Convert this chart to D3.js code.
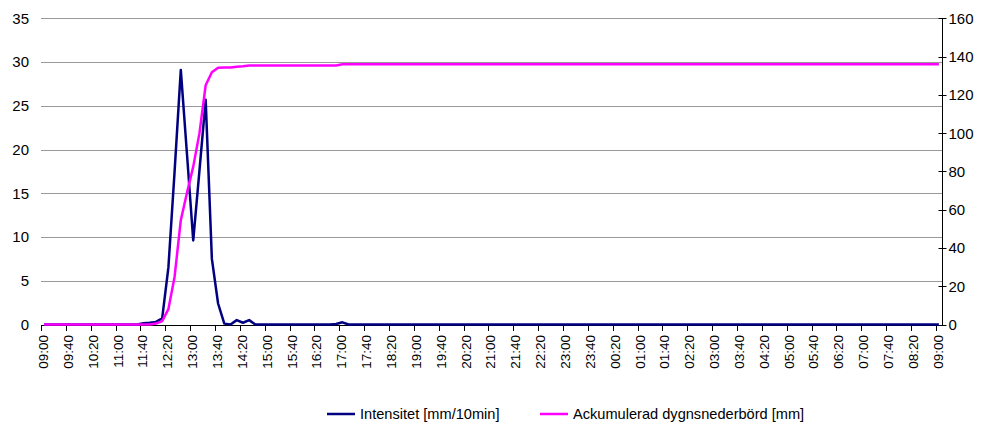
<!DOCTYPE html>
<html>
<head>
<meta charset="utf-8">
<script src="https://cdn.jsdelivr.net/npm/d3@7"></script>
<style>
  body { margin: 0; background: #fff; }
  text { font-family: "Liberation Sans", Arial, sans-serif; fill: #000; }
</style>
</head>
<body>
<div id="chart"></div>
<script>
// 10-minute steps from 09:00 to 09:00 next day (145 categories)
const startTime = new Date(2000, 0, 1, 9, 0);
const categories = d3.range(145).map(i => d3.timeFormat("%H:%M")(d3.timeMinute.offset(startTime, i * 10)));

// Intensitet [mm/10min]
const intensity = [
  0, 0, 0, 0, 0, 0, 0, 0, 0, 0, 0, 0, 0, 0, 0, 0,
  0.15, 0.2, 0.3, 0.7, 6.5, 17.5, 29.1, 19.4, 9.6, 17.6, 25.7, 7.5, 2.4, 0.1, 0, 0.5, 0.2, 0.5,
  0, 0, 0, 0, 0, 0, 0, 0, 0, 0, 0, 0, 0,
  0.05, 0.25,
  0, 0, 0, 0, 0, 0, 0, 0, 0, 0, 0, 0, 0, 0, 0, 0, 0, 0, 0, 0, 0, 0, 0, 0,
  0, 0, 0, 0, 0, 0, 0, 0, 0, 0, 0, 0, 0, 0, 0, 0, 0, 0, 0, 0, 0, 0, 0, 0,
  0, 0, 0, 0, 0, 0, 0, 0, 0, 0, 0, 0, 0, 0, 0, 0, 0, 0, 0, 0, 0, 0, 0, 0,
  0, 0, 0, 0, 0, 0, 0, 0, 0, 0, 0, 0, 0, 0, 0, 0, 0, 0, 0, 0, 0, 0, 0, 0
];

// Ackumulerad dygnsnederbörd [mm]
const accumulated = [
  0, 0, 0, 0, 0, 0, 0, 0, 0, 0, 0, 0, 0, 0, 0, 0, 0, 0,
  0.5, 1.8, 8, 25, 54.5, 69, 82.5, 100, 125, 131.8, 134.2, 134.3, 134.3, 134.7, 134.9, 135.3,
  135.3, 135.3, 135.3, 135.3, 135.3, 135.3, 135.3, 135.3, 135.3, 135.3, 135.3, 135.3, 135.3, 135.3,
  136, 136, 136, 136, 136, 136, 136, 136, 136, 136, 136, 136, 136, 136, 136, 136, 136, 136, 136, 136, 136, 136, 136, 136,
  136, 136, 136, 136, 136, 136, 136, 136, 136, 136, 136, 136, 136, 136, 136, 136, 136, 136, 136, 136, 136, 136, 136, 136,
  136, 136, 136, 136, 136, 136, 136, 136, 136, 136, 136, 136, 136, 136, 136, 136, 136, 136, 136, 136, 136, 136, 136, 136,
  136, 136, 136, 136, 136, 136, 136, 136, 136, 136, 136, 136, 136, 136, 136, 136, 136, 136, 136, 136, 136, 136, 136, 136,
  136
];

const leftTicks = [0, 5, 10, 15, 20, 25, 30, 35];
const rightTicks = [0, 20, 40, 60, 80, 100, 120, 140, 160];
const seriesNames = ["Intensitet [mm/10min]", "Ackumulerad dygnsnederbörd [mm]"];
const seriesColors = ["#000080", "#FF00FF"];

const width = 985, height = 424;
const plot = {left: 41, right: 942, top: 18.3, bottom: 324.5};

const svg = d3.select("#chart")
    .append("svg")
    .attr("width", width)
    .attr("height", height);

svg.append("rect").attr("width", width).attr("height", height).attr("fill", "#fff");

// categories by index (09:00 occurs twice); points sit mid-band, ticks between
const idx = d3.range(categories.length);
const xBand = d3.scaleBand().domain(idx).range([plot.left, plot.right]);
const x = i => xBand(i) + xBand.bandwidth() / 2;

const yLeft = d3.scaleLinear().domain([0, 35]).range([plot.bottom, plot.top]);
const yRight = d3.scaleLinear().domain([0, 160]).range([plot.bottom, plot.top]);

// gridlines
svg.append("g")
    .selectAll("line")
    .data(leftTicks.filter(d => d > 0))
    .enter()
    .append("line")
    .attr("x1", plot.left)
    .attr("x2", plot.right)
    .attr("y1", d => Math.round(yLeft(d)) + 0.5)
    .attr("y2", d => Math.round(yLeft(d)) + 0.5)
    .attr("stroke", "#999")
    .attr("stroke-width", 1);

// left axis labels (no axis line)
svg.append("g")
    .selectAll("text")
    .data(leftTicks)
    .enter()
    .append("text")
    .attr("x", 29)
    .attr("y", d => yLeft(d))
    .attr("dy", "0.36em")
    .attr("text-anchor", "end")
    .attr("font-size", "15px")
    .text(d => d);

// right axis
const rightAxis = svg.append("g")
    .attr("transform", `translate(${Math.round(plot.right) + 0.5},0)`);
rightAxis.append("line")
    .attr("y1", plot.top)
    .attr("y2", plot.bottom + 1)
    .attr("stroke", "#000");
rightAxis.selectAll("line.tick")
    .data(rightTicks)
    .enter()
    .append("line")
    .attr("class", "tick")
    .attr("x1", -4)
    .attr("x2", 4)
    .attr("y1", d => Math.round(yRight(d)) + 0.5)
    .attr("y2", d => Math.round(yRight(d)) + 0.5)
    .attr("stroke", "#000");
rightAxis.selectAll("text")
    .data(rightTicks)
    .enter()
    .append("text")
    .attr("x", 6)
    .attr("y", d => yRight(d))
    .attr("dy", "0.36em")
    .attr("font-size", "15px")
    .text(d => d);

// x axis
const labelled = idx.filter(i => i % 4 === 0);
const xAxis = svg.append("g");
xAxis.append("line")
    .attr("x1", plot.left)
    .attr("x2", plot.right)
    .attr("y1", Math.round(plot.bottom) + 0.5)
    .attr("y2", Math.round(plot.bottom) + 0.5)
    .attr("stroke", "#000");
xAxis.selectAll("line.tick")
    .data(labelled)
    .enter()
    .append("line")
    .attr("class", "tick")
    .attr("x1", i => Math.round(xBand(i)) + 0.5)
    .attr("x2", i => Math.round(xBand(i)) + 0.5)
    .attr("y1", Math.round(plot.bottom))
    .attr("y2", Math.round(plot.bottom) + 6)
    .attr("stroke", "#000");
xAxis.selectAll("text")
    .data(labelled)
    .enter()
    .append("text")
    .attr("transform", i => `translate(${x(i) - 1},335) rotate(-90)`)
    .attr("dy", "0.36em")
    .attr("text-anchor", "end")
    .attr("font-size", "13.5px")
    .text(i => categories[i]);

// lines
const lineLeft = d3.line().x((d, i) => x(i)).y(d => yLeft(d));
const lineRight = d3.line().x((d, i) => x(i)).y(d => yRight(d));

svg.append("path")
    .datum(intensity)
    .attr("d", lineLeft)
    .attr("fill", "none")
    .attr("stroke", seriesColors[0])
    .attr("stroke-width", 2.5)
    .attr("stroke-linejoin", "round");

svg.append("path")
    .datum(accumulated)
    .attr("d", lineRight)
    .attr("fill", "none")
    .attr("stroke", seriesColors[1])
    .attr("stroke-width", 2.5)
    .attr("stroke-linejoin", "round");

// legend
const legendX = [327, 540];
const legend = svg.append("g")
    .selectAll("g")
    .data(seriesNames)
    .enter()
    .append("g")
    .attr("transform", (d, i) => `translate(${legendX[i]},414)`);
legend.append("line")
    .attr("x1", 0)
    .attr("x2", 28)
    .attr("stroke", (d, i) => seriesColors[i])
    .attr("stroke-width", 2.5);
legend.append("text")
    .attr("x", 33)
    .attr("dy", "0.36em")
    .attr("font-size", "14.6px")
    .text(d => d);
</script>
</body>
</html>
